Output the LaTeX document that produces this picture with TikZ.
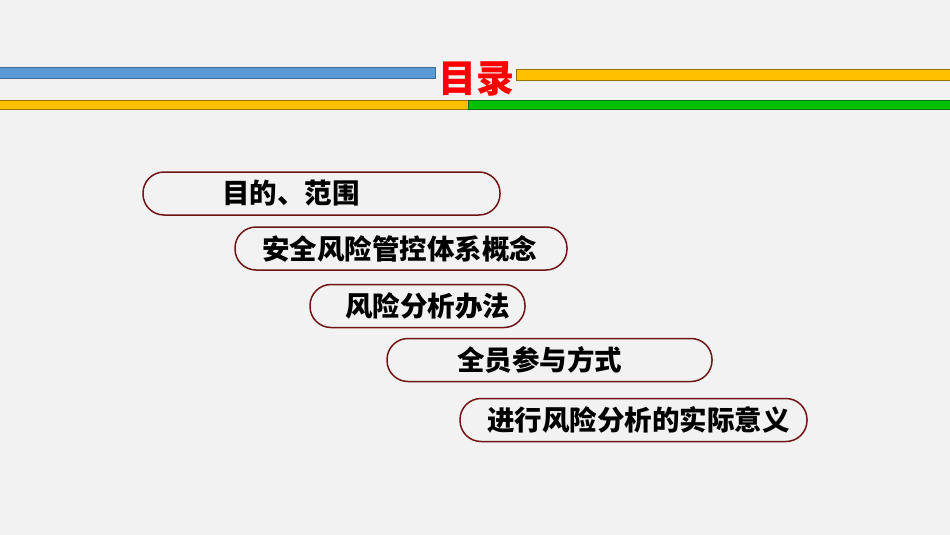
\documentclass[tikz,border=0pt]{standalone}
\usepackage{fontspec}
\newfontfamily\cjk{Noto Sans CJK SC}
\definecolor{pagebg}{HTML}{F2F2F2}
\definecolor{pillred}{HTML}{701515}
\definecolor{barblue}{HTML}{5B9BD5}
\definecolor{baryellow}{HTML}{FFC000}
\definecolor{bargreen}{HTML}{00C000}
\begin{document}
\begin{tikzpicture}
        [x = 1pt, y = -1pt,
            bar/.style = {line width=0.8pt},
            pill/.style = {draw=pillred, line width=1.5pt, rounded corners=21pt,
                minimum height=43pt, inner sep=0pt},
            item/.style = {anchor=west, inner sep=0pt,
                font=\cjk\bfseries\fontsize{27.5}{27.5}\selectfont}]

        \fill[pagebg] (0,0) rectangle (950,535);
        \useasboundingbox (0,0) rectangle (950,535);

        % bars
        \draw[bar, fill=barblue, draw=barblue!70!black] (-1,67) rectangle (435,78);
        \draw[bar, fill=baryellow, draw=baryellow!60!black] (516,69) rectangle (951,80);
        \draw[bar, fill=baryellow, draw=baryellow!60!black] (-1,100) rectangle (468,109.5);
        \draw[bar, fill=bargreen, draw=bargreen!60!black] (468,100) rectangle (951,109.5);

        \node[font=\cjk\bfseries\fontsize{38}{38}\selectfont, text=red, inner sep=0pt]
            (title) at (476.5,79) {目录};

        % items
        \node[pill, minimum width=357pt] (p1) at (321.5,193.5) {};
        \node[pill, minimum width=332pt] (p2) at (401,248.5) {};
        \node[pill, minimum width=215pt] (p3) at (417.5,306) {};
        \node[pill, minimum width=325pt] (p4) at (549.5,360) {};
        \node[pill, minimum width=347pt] (p5) at (633.5,420) {};

        \node[item] (t1) at (222,193.5) {目的、范围};
        \node[item] (t2) at (262,248.5) {安全风险管控体系概念};
        \node[item] (t3) at (345,306) {风险分析办法};
        \node[item] (t4) at (457,360) {全员参与方式};
        \node[item] (t5) at (487,420) {进行风险分析的实际意义};
    \end{tikzpicture}
\end{document}
